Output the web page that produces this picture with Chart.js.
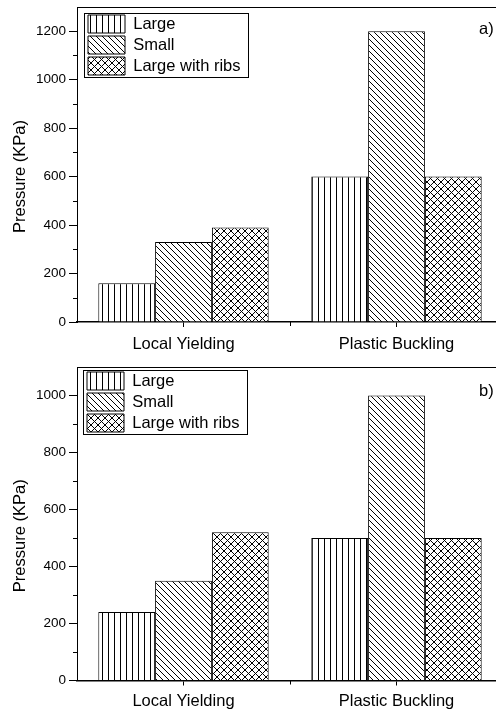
<!DOCTYPE html>
<html>
<head>
<meta charset="utf-8">
<script src="https://cdn.jsdelivr.net/npm/chart.js@4.4.1/dist/chart.umd.min.js"></script>
<style>
  html, body { margin: 0; padding: 0; background: #fff; overflow: hidden; width: 496px; height: 711px; }
  .panel { position: absolute; left: 0; width: 510px; }
  #wrapA { top: 0; height: 355px; }
  #wrapB { top: 355px; height: 356px; }
</style>
</head>
<body>
<div class="panel" id="wrapA"><canvas id="chartA" width="510" height="355"></canvas></div>
<div class="panel" id="wrapB"><canvas id="chartB" width="510" height="356"></canvas></div>
<script>
// Failure modes and specimen types
const categories = ['Local Yielding', 'Plastic Buckling'];
const seriesNames = ['Large', 'Small', 'Large with ribs'];

// Panel a) pressures (KPa)
const largeA = [160, 600];
const smallA = [330, 1200];
const ribsA  = [390, 600];
const yTicksA = [0, 200, 400, 600, 800, 1000, 1200];
const yMaxA = 1300;

// Panel b) pressures (KPa)
const largeB = [240, 500];
const smallB = [350, 1000];
const ribsB  = [520, 500];
const yTicksB = [0, 200, 400, 600, 800, 1000];
const yMaxB = 1100;

const yTitle = 'Pressure (KPa)';
const FONT = "'Liberation Sans', Arial, sans-serif";

// Hatch fills: vertical lines, back-diagonal lines, cross-hatch
function hatch(ctx, kind) {
  const s = kind === 'vertical' ? 6 : (kind === 'diag' ? 6 : 7);
  const c = document.createElement('canvas');
  c.width = s; c.height = s;
  const g = c.getContext('2d');
  g.fillStyle = '#fff';
  g.fillRect(0, 0, s, s);
  g.strokeStyle = '#000';
  g.fillStyle = '#000';
  g.lineWidth = 1;
  if (kind === 'vertical') {
    g.fillRect(0, 0, 1, s);
  } else {
    for (let k = -1; k <= 1; k++) {
      g.beginPath();
      g.moveTo(-1, -1 + k * s);
      g.lineTo(s + 1, s + 1 + k * s);
      g.stroke();
      if (kind === 'cross') {
        g.beginPath();
        g.moveTo(-1, s + 1 + k * s);
        g.lineTo(s + 1, -1 + k * s);
        g.stroke();
      }
    }
  }
  return ctx.createPattern(c, 'repeat');
}

function decorations(cfg) {
  return {
    id: 'decorations',
    afterLayout(chart) {
      const a = chart.chartArea;
      const lg = chart.legend;
      if (!lg) return;
      lg.left = a.left + cfg.legendDX;
      lg.top = a.top + cfg.legendDY;
      lg.right = a.right;
      lg.bottom = a.bottom;
    },
    beforeDraw(chart) {
      const { ctx, width, height } = chart;
      ctx.save();
      ctx.fillStyle = '#fff';
      ctx.fillRect(0, 0, width, height);
      ctx.restore();
    },
    afterDraw(chart) {
      const { ctx, chartArea: a, scales: { x, y } } = chart;
      ctx.save();
      ctx.strokeStyle = '#000';
      ctx.lineWidth = 1;

      // top frame line
      ctx.beginPath();
      ctx.moveTo(a.left, Math.round(a.top) + 0.5);
      ctx.lineTo(a.right, Math.round(a.top) + 0.5);
      ctx.stroke();

      // minor ticks on the value axis, halfway between labelled ticks
      const tv = cfg.ticks;
      const step = tv[1] - tv[0];
      for (let v = step / 2; v < cfg.max; v += step) {
        const py = Math.round(y.getPixelForValue(v)) + 0.5;
        ctx.beginPath();
        ctx.moveTo(a.left - 4, py);
        ctx.lineTo(a.left, py);
        ctx.stroke();
      }
      // minor tick between the two categories
      const mx = Math.round((x.getPixelForValue(0) + x.getPixelForValue(1)) / 2) + 0.5;
      ctx.beginPath();
      ctx.moveTo(mx, a.bottom);
      ctx.lineTo(mx, a.bottom + 4);
      ctx.stroke();

      // legend frame
      const lg = chart.legend;
      if (lg && lg.legendHitBoxes && lg.legendHitBoxes.length) {
        const pad = lg.options.labels.padding;
        const x0 = lg.left + pad;
        const y0 = lg.top + pad;
        let w = 0;
        lg.legendHitBoxes.forEach(h => { w = Math.max(w, h.width); });
        const n = lg.legendHitBoxes.length;
        const bh = lg.options.labels.boxHeight;
        const rowH = bh + pad;
        const L = Math.round(x0 - 4) + 0.5;
        const T = Math.round(y0 - 2) + 0.5;
        const R = Math.round(x0 + w + 7) + 0.5;
        const B = Math.round(y0 + (n - 1) * rowH + bh + 2) + 0.5;
        ctx.strokeRect(L, T, R - L, B - T);
      }

      // value axis title
      ctx.fillStyle = '#000';
      ctx.font = `16.5px ${FONT}`;
      ctx.textAlign = 'center';
      ctx.textBaseline = 'middle';
      ctx.save();
      ctx.translate(20, (a.top + a.bottom) / 2 + 12);
      ctx.rotate(-Math.PI / 2);
      ctx.fillText(yTitle, 0, 0);
      ctx.restore();

      // panel tag
      ctx.textAlign = 'left';
      ctx.textBaseline = 'alphabetic';
      ctx.fillText(cfg.tag, cfg.tagX, cfg.tagY);
      ctx.restore();
    }
  };
}

function build(canvasId, data, cfg) {
  const canvas = document.getElementById(canvasId);
  const ctx = canvas.getContext('2d');
  const fills = [hatch(ctx, 'vertical'), hatch(ctx, 'diag'), hatch(ctx, 'cross')];
  const H = canvas.height;
  return new Chart(ctx, {
    type: 'bar',
    data: {
      labels: categories,
      datasets: data.map((vals, i) => ({
        label: seriesNames[i],
        data: vals,
        backgroundColor: fills[i],
        borderColor: '#000',
        borderWidth: 1,
        borderSkipped: 'start',
        categoryPercentage: 0.8,
        barPercentage: 1.0
      }))
    },
    options: {
      responsive: false,
      animation: false,
      devicePixelRatio: 1,
      layout: { padding: { left: 0, right: 7, top: cfg.top, bottom: 0 } },
      plugins: {
        tooltip: { enabled: false },
        legend: {
          display: true,
          position: 'chartArea',
          align: 'start',
          labels: {
            boxWidth: 37,
            boxHeight: 18,
            padding: 3,
            color: '#000',
            font: { family: FONT, size: 16.5 }
          }
        }
      },
      scales: {
        x: {
          type: 'category',
          offset: true,
          grid: { display: true, drawOnChartArea: false, offset: false, drawTicks: true, tickLength: 5, tickColor: '#000', tickWidth: 1 },
          border: { display: true, color: '#000', width: 1.5 },
          ticks: { color: '#000', padding: cfg.xPad, font: { family: FONT, size: 16.5 }, maxRotation: 0, autoSkip: false },
          afterFit(s) { s.height = H - cfg.bottom; s.paddingLeft = 0; s.paddingRight = 0; }
        },
        y: {
          min: 0,
          max: cfg.max,
          grid: { display: true, drawOnChartArea: false, drawTicks: true, tickLength: 8, tickColor: '#000', tickWidth: 1 },
          border: { display: true, color: '#000', width: 1 },
          ticks: {
            color: '#000', padding: 3, includeBounds: false,
            font: { family: FONT, size: 13.5 },
            callback: v => String(v)
          },
          afterBuildTicks(s) { s.ticks = cfg.ticks.map(v => ({ value: v })); },
          afterFit(s) { s.width = 77; s.paddingTop = 0; s.paddingBottom = 0; }
        }
      }
    },
    plugins: [decorations(cfg)]
  });
}

build('chartA', [largeA, smallA, ribsA], {
  top: 7, bottom: 322, max: yMaxA, ticks: yTicksA, xPad: 8,
  legendDX: 8, legendDY: 5, tag: 'a)', tagX: 479, tagY: 34
});
build('chartB', [largeB, smallB, ribsB], {
  top: 12, bottom: 325.5, max: yMaxB, ticks: yTicksB, xPad: 6,
  legendDX: 7, legendDY: 2, tag: 'b)', tagX: 479, tagY: 41
});
</script>
</body>
</html>
